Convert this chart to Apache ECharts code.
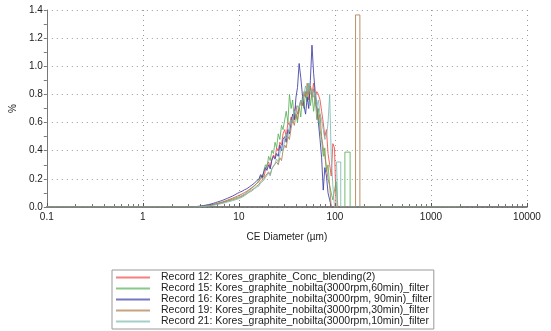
<!DOCTYPE html>
<html>
<head>
<meta charset="utf-8">
<script src="https://cdn.jsdelivr.net/npm/echarts@6/dist/echarts.min.js"></script>
<style>
	html, body { margin: 0; padding: 0; background: #fff; }
	#mainchart { width: 551px; height: 331px; }
</style>
</head>
<body>
<div id="mainchart"></div>
<script>
	// CE diameter bins (um)
	var diam = [3.0, 3.2, 3.4, 3.6, 3.8, 4.0, 4.3, 4.5, 4.8, 5.1, 5.4, 5.7, 6.0, 6.4, 6.8, 7.2, 7.6, 8.1, 8.6, 9.1,
		9.6, 10.2, 10.8, 11.4, 12.1, 12.8, 13.6, 14.4, 15.3,
		16.2, 16.8, 17.5, 18.2, 18.9, 19.6, 20.4, 21.2, 22.0, 22.9,
		23.8, 24.7, 25.7, 26.7, 27.8, 28.8, 30.0, 31.1, 32.4, 33.6,
		35.0, 36.3, 37.8, 39.3, 40.8, 42.4, 44.1, 45.8, 47.6, 49.5,
		51.4, 53.4, 55.5, 57.7, 60.0, 62.3, 64.8, 67.3, 70.0, 72.7,
		75.6, 78.5, 81.6, 84.8, 88.2, 91.6, 95.2, 99.0, 102.9, 106.9]
	var span = [0.1, 2000]

	var rec12 = [0, 0, 0.001, 0.002, 0.003, 0.005, 0.007, 0.009, 0.012, 0.015, 0.019, 0.023, 0.027, 0.032, 0.037, 0.043, 0.049, 0.056, 0.063, 0.07,
		0.077, 0.085, 0.093, 0.102, 0.112, 0.124, 0.138, 0.15, 0.168,
		0.18, 0.2, 0.23, 0.21, 0.26, 0.3, 0.32, 0.28, 0.34, 0.37,
		0.35, 0.42, 0.4, 0.46, 0.44, 0.52, 0.55, 0.5, 0.6, 0.58,
		0.64, 0.6, 0.68, 0.72, 0.66, 0.7, 0.76, 0.72, 0.8, 0.78,
		0.84, 0.76, 0.86, 0.8, 0.88, 0.78, 0.82, 0.8, 0.76, 0.68,
		0.6, 0.5, 0.55, 0.38, 0.3, 0.22, 0.45, 0.42, 0, 0]
	var rec15 = [0, 0, 0.001, 0.001, 0.002, 0.004, 0.006, 0.008, 0.011, 0.014, 0.017, 0.021, 0.025, 0.029, 0.034, 0.039, 0.045, 0.051, 0.057, 0.063,
		0.068, 0.074, 0.082, 0.092, 0.104, 0.118, 0.132, 0.148, 0.165,
		0.19, 0.22, 0.2, 0.26, 0.3, 0.28, 0.36, 0.33, 0.4, 0.38,
		0.46, 0.42, 0.52, 0.48, 0.58, 0.55, 0.62, 0.68, 0.6, 0.8,
		0.7, 0.76, 0.62, 0.66, 0.6, 0.72, 0.64, 0.78, 0.7, 0.82,
		0.75, 0.88, 0.72, 0.8, 0.68, 0.78, 0.62, 0.7, 0.55, 0.48,
		0.36, 0.42, 0.25, 0.3, 0.15, 0.1, 0.05, 0.12, 0.18, 0]
	var rec16 = [0, 0.001, 0.002, 0.003, 0.005, 0.007, 0.01, 0.013, 0.017, 0.021, 0.026, 0.031, 0.036, 0.042, 0.048, 0.055, 0.062, 0.07, 0.078, 0.087,
		0.096, 0.105, 0.112, 0.122, 0.13, 0.142, 0.155, 0.168, 0.185,
		0.2, 0.23, 0.21, 0.25, 0.28, 0.26, 0.3, 0.27, 0.33, 0.36,
		0.34, 0.38, 0.36, 0.44, 0.4, 0.48, 0.5, 0.46, 0.55, 0.52,
		0.6, 0.66, 0.62, 0.78, 0.85, 1.02, 0.92, 0.8, 0.72, 0.66,
		0.78, 0.7, 0.9, 1.15, 0.95, 0.82, 0.72, 0.6, 0.48, 0.35,
		0.12, 0.28, 0.22, 0.1, 0.05, 0, 0, 0, 0, 0]
	var rec19 = [0, 0, 0, 0.001, 0.002, 0.003, 0.005, 0.007, 0.009, 0.012, 0.015, 0.018, 0.022, 0.026, 0.031, 0.036, 0.041, 0.046, 0.051, 0.056,
		0.061, 0.068, 0.076, 0.085, 0.095, 0.108, 0.12, 0.132, 0.148,
		0.16, 0.18, 0.17, 0.2, 0.22, 0.21, 0.25, 0.23, 0.27, 0.29,
		0.28, 0.32, 0.3, 0.35, 0.33, 0.4, 0.44, 0.42, 0.5, 0.48,
		0.56, 0.62, 0.58, 0.66, 0.62, 0.7, 0.76, 0.72, 0.82, 0.78,
		0.88, 0.8, 0.86, 0.78, 0.84, 0.74, 0.7, 0.62, 0.66, 0.5,
		0.42, 0.36, 0.28, 0.2, 0.15, 0, 0, 0, 0, 0]
	var rec21 = [0, 0, 0, 0.001, 0.001, 0.002, 0.004, 0.005, 0.007, 0.009, 0.012, 0.015, 0.018, 0.022, 0.026, 0.03, 0.035, 0.04, 0.045, 0.05,
		0.055, 0.062, 0.07, 0.08, 0.092, 0.104, 0.112, 0.128, 0.14,
		0.15, 0.17, 0.16, 0.19, 0.21, 0.2, 0.24, 0.22, 0.27, 0.26,
		0.31, 0.34, 0.32, 0.38, 0.42, 0.4, 0.48, 0.52, 0.5, 0.58,
		0.62, 0.6, 0.68, 0.66, 0.72, 0.7, 0.76, 0.74, 0.8, 0.86,
		0.82, 0.88, 0.8, 0.84, 0.78, 0.82, 0.72, 0.76, 0.66, 0.62,
		0.55, 0.48, 0.5, 0.6, 0.8, 0.35, 0.15, 0, 0, 0]

	// single coarse bins past the main peak
	var rec15TailX = [127, 127, 144, 144]
	var rec15TailY = [0, 0.39, 0.39, 0]
	var rec19TailX = [164, 164, 182, 182]
	var rec19TailY = [0, 1.365, 1.365, 0]
	var rec21TailX = [104, 104, 115, 115]
	var rec21TailY = [0, 0.32, 0.32, 0]

	// log axis minor ticks: 2..9 within each decade
	var decades = [0.1, 1, 10, 100, 1000]
	var minorTicks = []
	decades.forEach(function(d) {
		for (var k = 2; k <= 9; k++) minorTicks.push(+(d * k).toPrecision(6))
	})

	var names = [
		'Record 12: Kores_graphite_Conc_blending(2)',
		'Record 15: Kores_graphite_nobilta(3000rpm,60min)_filter',
		'Record 16: Kores_graphite_nobilta(3000rpm, 90min)_filter',
		'Record 19: Kores_graphite_nobilta(3000rpm,30min)_filter',
		'Record 21: Kores_graphite_nobilta(3000rpm,10min)_filter'
	]
	var colors = ['#f04a4a', '#58b058', '#3c3ca6', '#b07c4c', '#7cbab2']

	function build(ys, tx, ty) {
		var out = [[span[0], 0]]
		diam.forEach(function(d, i) {
			out.push([d, ys[i]])
		})
		if (tx) {
			tx.forEach(function(x, i) {
				out.push([x, ty[i]])
			})
		}
		out.push([span[1], 0])
		return out
	}

	var seriesData = [
		build(rec12),
		build(rec15, rec15TailX, rec15TailY),
		build(rec16),
		build(rec19, rec19TailX, rec19TailY),
		build(rec21, rec21TailX, rec21TailY)
	]

	var font = 'Liberation Sans, Arial, sans-serif'
	var myChart = echarts.init(document.getElementById('mainchart'), null, { renderer: 'canvas' })

	var option = {
		animation: false,
		color: colors,
		grid: { left: 44, right: 24, top: 10, bottom: 124 },
		legend: {
			orient: 'vertical',
			left: 112,
			top: 270,
			height: 120,
			padding: [2, 2, 2, 3],
			borderColor: '#9a9a9a',
			borderWidth: 1,
			itemWidth: 34,
			itemHeight: 10,
			itemGap: 0,
			selectedMode: false,
			itemStyle: { opacity: 0 },
			lineStyle: { opacity: 0.7 },
			textStyle: { fontFamily: font, fontSize: 10.5, color: '#222', padding: [0, 0, 0, 6] },
			data: names
		},
		xAxis: [{
			type: 'log',
			logBase: 10,
			min: 0.1,
			max: 10000,
			name: 'CE Diameter (\u00b5m)',
			nameLocation: 'middle',
			nameGap: 25,
			nameTextStyle: { fontFamily: font, fontSize: 10, color: '#222' },
			axisLine: { lineStyle: { color: '#555', width: 1.5 } },
			axisTick: { inside: true, length: 4, lineStyle: { color: '#555' } },
			axisLabel: {
				fontFamily: font, fontSize: 10, color: '#222', margin: 5,
				formatter: function(v) { return String(+v.toPrecision(6)) }
			},
			splitLine: { show: true, lineStyle: { color: '#999', type: [1, 4] } }
		}, {
			type: 'log',
			logBase: 10,
			min: 0.1,
			max: 10000,
			position: 'bottom',
			axisLine: { show: false },
			axisLabel: { show: false },
			splitLine: { show: false },
			axisTick: { show: true, inside: true, length: 3, customValues: minorTicks, lineStyle: { color: '#777' } }
		}],
		yAxis: {
			type: 'value',
			min: 0,
			max: 1.4,
			interval: 0.2,
			name: '%',
			nameLocation: 'middle',
			nameGap: 25,
			nameTextStyle: { fontFamily: font, fontSize: 10, color: '#222' },
			axisLine: { show: true, lineStyle: { color: '#777', width: 1 } },
			axisTick: { show: true, length: 3, lineStyle: { color: '#777' } },
			minorTick: { show: true, splitNumber: 2, length: 3, lineStyle: { color: '#777' } },
			axisLabel: {
				fontFamily: font, fontSize: 10, color: '#222', margin: 4,
				formatter: function(v) { return v.toFixed(1) }
			},
			splitLine: { show: true, lineStyle: { color: '#999', type: [1, 4] } }
		},
		series: names.map(function(n, i) {
			return {
				name: n,
				type: 'line',
				symbol: 'none',
				data: seriesData[i],
				lineStyle: { width: 1, opacity: 0.85 }
			}
		})
	}
	myChart.setOption(option)
</script>
</body>
</html>
